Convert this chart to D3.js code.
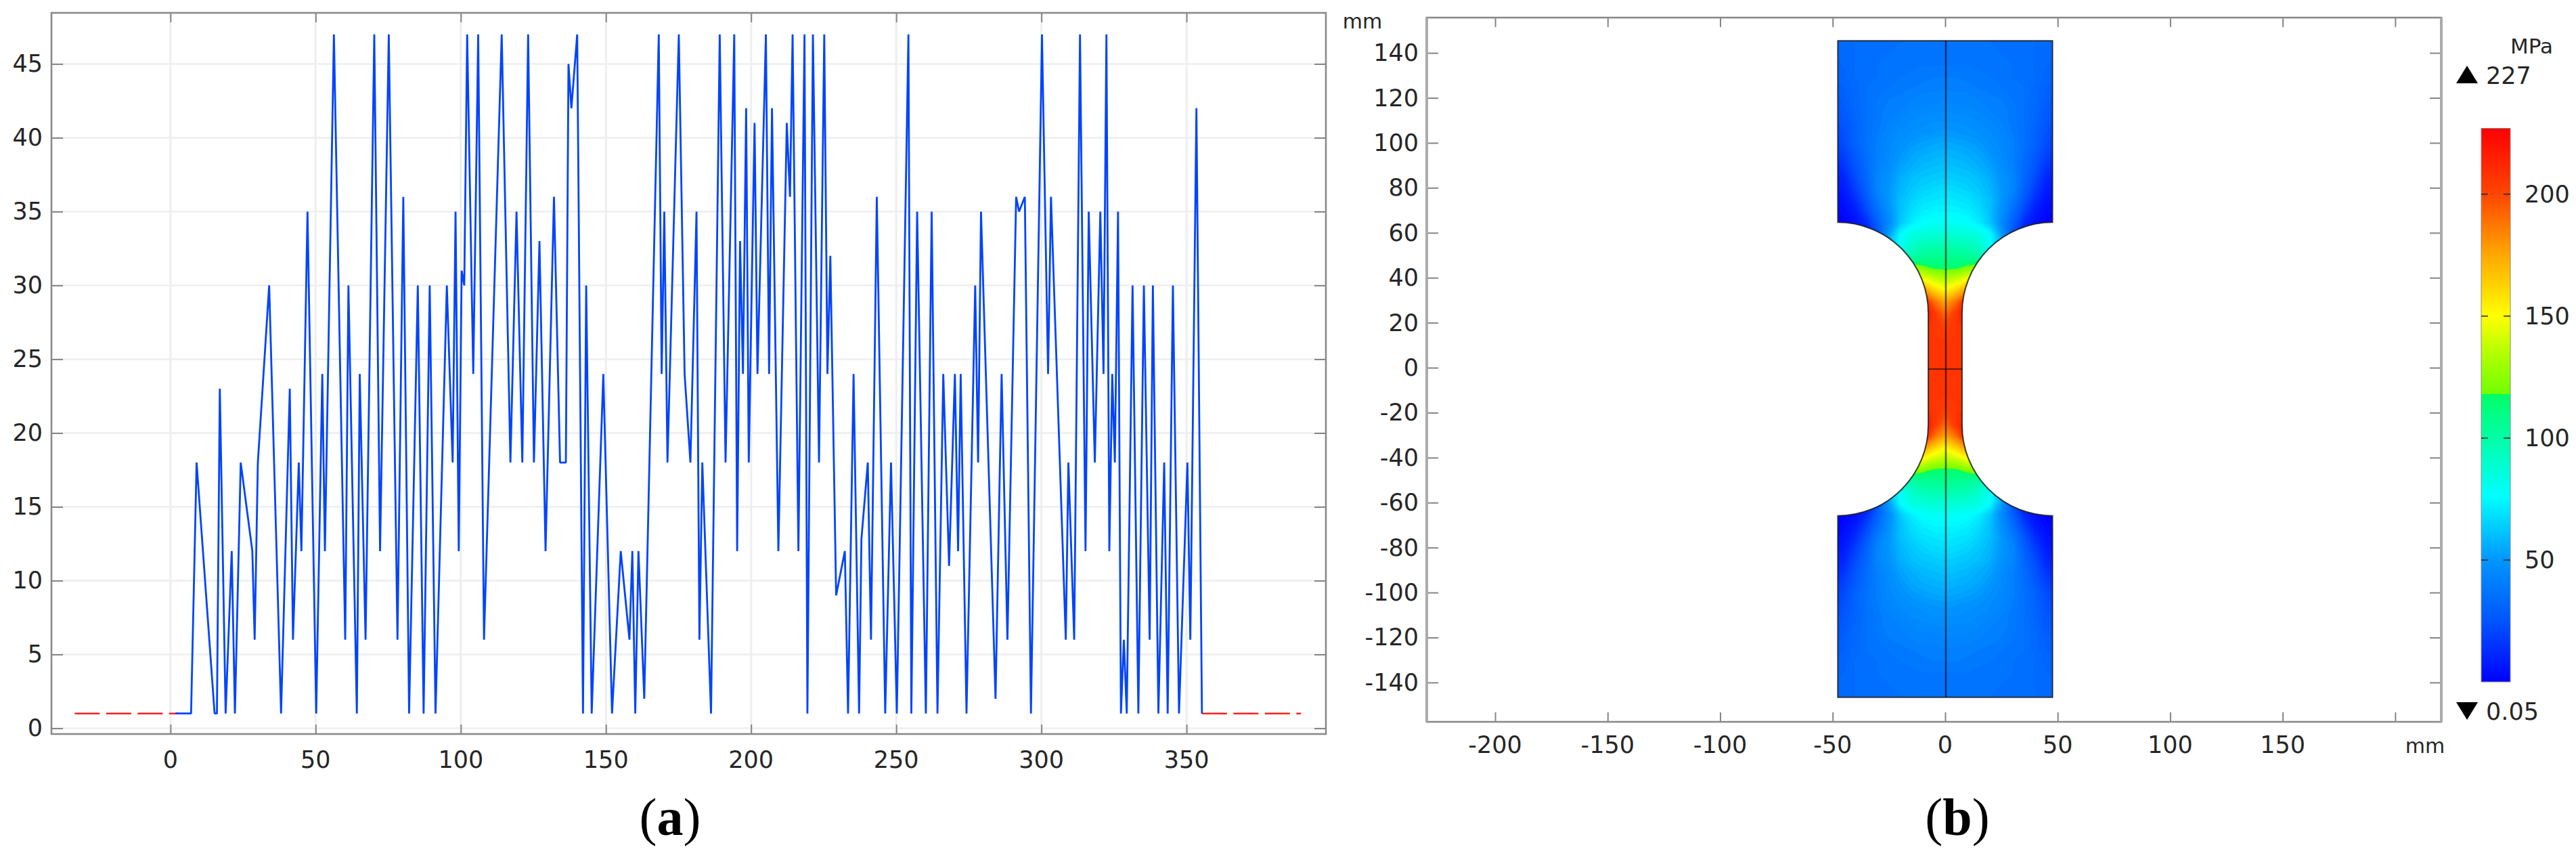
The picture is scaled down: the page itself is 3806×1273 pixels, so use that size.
<!DOCTYPE html>
<html>
<head>
<meta charset="utf-8">
<script src="https://cdn.jsdelivr.net/npm/d3@7"></script>
<style>
  html, body { margin: 0; padding: 0; background: #fff; }
  svg { display: block; }
  text { font-family: "DejaVu Sans", sans-serif; fill: #262626; }
  .caption { font-family: "Liberation Serif", serif; fill: #000; font-size: 78px; }
</style>
</head>
<body>
<script>
// panel (a): path
const lineX = [1.7, 7.1, 9, 15.2, 16, 17, 19, 21.1, 22.2, 24.2, 28.2, 29, 30.1, 34, 38.1, 41.1, 42.2, 44.2, 45.1, 47.2,
  50.2, 52.3, 53.2, 56.3, 60.2, 61.3, 64.2, 65.2, 67.2, 70.2, 72.2, 75.2, 78.2, 80.2, 82.2, 85.2, 87.2, 89.3, 91.3, 95.2,
  97.2, 98.2, 99.3, 100.3, 101.2, 102.2, 104.3, 106, 108, 114.1, 117.1, 119.2, 121.2, 123.2, 125.2, 127.1, 129.2, 132.1, 134.2, 136.2,
  137.1, 138.1, 140.1, 142.1, 143.2, 145.1, 149.1, 152.1, 155.1, 158.1, 159.1, 160.1, 161.2, 163.2, 168.2, 169.2, 170.1, 171.2, 175.1, 177.1,
  179.1, 181.2, 182.2, 183.2, 186.2, 189.2, 191.2, 194.2, 195.2, 196.2, 197.2, 198.3, 199.2, 201.2, 202.2, 205.1, 206.2, 207.2, 209.4, 212.3,
  213.4, 214.3, 216.3, 218.4, 219.4, 221.3, 223.4, 225.2, 226.3, 227.3, 229.3, 232.3, 233.4, 235.3, 237.2, 238, 240.2, 241.3, 243.3, 246.2,
  248.2, 250.2, 251.3, 254.2, 255.2, 257.2, 260.2, 262.2, 264.2, 266.2, 268.2, 270.2, 271.3, 272.2, 274.2, 277.2, 278.2, 279.2, 284.2, 286.3,
  288.3, 291.3, 292.3, 294.3, 296.4, 300.2, 302.3, 303.3, 308.4, 309.3, 311.3, 313.3, 315.2, 316.3, 318.4, 320.3, 321.4, 322.4, 323.4, 324.4,
  325.3, 326.4, 327.4, 328.4, 329.4, 331.4, 333.4, 335.3, 337.3, 338.4, 340.3, 342.3, 343.5, 345.3, 347.4, 350.3, 351.3, 353.4, 355.3];
const lineY = [1, 1, 18, 1, 1, 23, 1, 12, 1, 18, 12, 6, 18, 30, 1, 23, 6, 18, 12, 35,
  1, 24, 12, 47, 6, 30, 1, 24, 6, 47, 12, 47, 6, 36, 1, 30, 1, 30, 1, 30,
  18, 35, 12, 31, 30, 47, 24, 47, 6, 47, 18, 35, 18, 47, 18, 33, 12, 36, 18, 18,
  45, 42, 47, 1, 30, 1, 24, 1, 12, 6, 12, 1, 12, 2, 47, 24, 35, 18, 47, 24,
  18, 35, 6, 18, 1, 47, 18, 47, 12, 33, 24, 42, 18, 41, 24, 47, 24, 42, 12, 41,
  36, 47, 12, 47, 1, 47, 18, 47, 24, 32, 9, 12, 1, 24, 1, 12.8, 18, 6, 36, 1,
  18, 1, 13.6, 47, 1, 35, 1, 35, 1, 24, 11, 24, 12, 24, 1, 30, 18, 35, 2, 24,
  6, 36, 35, 36, 1, 47, 24, 36, 6, 18, 6, 47, 12, 35, 18, 35, 24, 47, 12, 24,
  18, 35, 1, 6, 1, 30, 1, 30, 6, 30, 1, 18, 1, 30, 1, 18, 6, 42, 1];
const redLeftX = [-33, 3];
const redRightX = [355.3, 389.4];
const redY = 1;

const xTicksA = [0, 50, 100, 150, 200, 250, 300, 350];
const yTicksA = [0, 5, 10, 15, 20, 25, 30, 35, 40, 45];

// panel (b): axis ticks
const xTicksB = [-200, -150, -100, -50, 0, 50, 100, 150, 200];
const xLabelsB = [-200, -150, -100, -50, 0, 50, 100, 150];
const yTicksB = [140, 120, 100, 80, 60, 40, 20, 0, -20, -40, -60, -80, -100, -120, -140];

// colour table of the stress legend, MPa
const stopValues = [0.05, 25, 50, 76, 100, 117.9, 118, 135, 150, 175, 200, 227];
const stopColors = ["#0000ff", "#0055ff", "#0096ff", "#00ffff", "#00ffa6", "#00ff66", "#70ff00", "#b4ff00", "#ffff00", "#ffa800", "#ff4600", "#ff0000"];
const legendTicks = [50, 100, 150, 200];

// stress for one quarter of the specimen (it is symmetric), MPa
const fieldXs = [0, 5, 10, 15, 20, 25, 30, 35, 40, 45, 50];
const fieldYs = d3.range(150, -1, -5);
const fieldRows = [
  [36, 36, 36, 36, 36, 35, 35, 35, 34, 33, 33],
  [36, 36, 36, 36, 36, 35, 35, 35, 34, 33, 33],
  [37, 37, 37, 36, 36, 36, 35, 35, 34, 33, 32],
  [38, 38, 38, 37, 37, 36, 36, 35, 34, 32, 31],
  [40, 40, 39, 39, 38, 37, 36, 35, 34, 31, 30],
  [42, 41, 41, 40, 39, 38, 37, 36, 33, 30, 28],
  [44, 43, 43, 42, 41, 40, 38, 36, 33, 29, 26],
  [46, 45, 45, 44, 42, 41, 39, 36, 32, 27, 24],
  [48, 48, 47, 46, 44, 42, 39, 36, 31, 26, 22],
  [51, 50, 49, 48, 46, 44, 40, 36, 30, 24, 20],
  [55, 54, 53, 51, 48, 45, 41, 36, 30, 22, 18],
  [58, 57, 56, 54, 50, 46, 41, 35, 27, 19, 14],
  [61, 60, 59, 56, 53, 47, 42, 34, 25, 15, 11],
  [64, 63, 62, 60, 56, 49, 44, 32, 22, 11, 8],
  [68, 67, 65, 62, 58, 50, 44, 30, 18, 8, 5],
  [71, 70, 69, 65, 60, 50, 40, 26, 13, 5, 3],
  [74, 74, 72, 68, 60, 48, 35, 20, 8, 3, 1],
  [78, 78, 77, 72, 62, 46, 30, 13, 5, 1, 1],
  [87, 87, 86, 84, 75, 52, 24, 8, 3, 1, 1],
  [97, 97, 95, 90, 78, 60, 30, 10, 4, 1, 1],
  [107, 106, 104, 100, 85, 60, 30, 10, 4, 1, 1],
  [115, 116, 122, 128, 100, 60, 30, 10, 4, 1, 1],
  [135, 140, 150, 150, 100, 60, 30, 10, 4, 1, 1],
  [152, 163, 182, 170, 100, 60, 30, 10, 4, 1, 1],
  [175, 190, 218, 210, 100, 60, 30, 10, 4, 1, 1],
  [190, 206, 226, 226, 100, 60, 30, 10, 4, 1, 1],
  [200, 207, 215, 215, 100, 60, 30, 10, 4, 1, 1],
  [205, 206, 207, 207, 100, 60, 30, 10, 4, 1, 1],
  [207, 207, 207, 207, 100, 60, 30, 10, 4, 1, 1],
  [207, 207, 207, 207, 100, 60, 30, 10, 4, 1, 1],
  [207, 207, 207, 207, 100, 60, 30, 10, 4, 1, 1]
];

// specimen outline, mm
const halfWidth = 47.7, neckHalf = 7.5, tabEnd = 146, shoulderY = 65, filletY = 25, specimenShift = -0.6;

const svg = d3.select("body").append("svg").attr("width", 3806).attr("height", 1273);

const boxA = { left: 76, right: 1959, top: 19, bottom: 1084 };
const boxB = { left: 2108, right: 3607, top: 26, bottom: 1066 };

const xA = d3.scaleLinear().domain([-41, 398]).range([boxA.left, boxA.right]);
const yA = d3.scaleLinear().domain([-0.39, 48.46]).range([boxA.bottom, boxA.top]);
const xB = d3.scaleLinear().domain([-230.4, 220.5]).range([boxB.left, boxB.right]);
const yB = d3.scaleLinear().domain([-157.5, 155.7]).range([boxB.bottom, boxB.top]);
const legendY = d3.scaleLinear().domain([0.05, 227]).range([1007, 189.5]);
const stress = d3.scaleLinear().domain(stopValues).range(stopColors).clamp(true);

function drawTicks(g, box, x, y, xTicks, yTicks) {
  const tickStyle = sel => sel.selectAll("line").attr("stroke", "#858585").attr("stroke-width", 2);
  g.append("g").attr("transform", `translate(0,${box.top})`)
    .call(d3.axisBottom(x).tickValues(xTicks).tickSize(14).tickFormat(""))
    .call(s => s.select(".domain").remove()).call(tickStyle);
  g.append("g").attr("transform", `translate(0,${box.bottom})`)
    .call(d3.axisTop(x).tickValues(xTicks).tickSize(14).tickFormat(""))
    .call(s => s.select(".domain").remove()).call(tickStyle);
  g.append("g").attr("transform", `translate(${box.left},0)`)
    .call(d3.axisRight(y).tickValues(yTicks).tickSize(17).tickFormat(""))
    .call(s => s.select(".domain").remove()).call(tickStyle);
  g.append("g").attr("transform", `translate(${box.right},0)`)
    .call(d3.axisLeft(y).tickValues(yTicks).tickSize(17).tickFormat(""))
    .call(s => s.select(".domain").remove()).call(tickStyle);
}

function drawFrame(g, box) {
  g.append("rect")
    .attr("x", box.left).attr("y", box.top)
    .attr("width", box.right - box.left).attr("height", box.bottom - box.top)
    .attr("fill", "none").attr("stroke", "#8a8a8a").attr("stroke-width", 2.6);
}

function drawLabels(g, box, x, y, xLabels, yLabels, yOffset, xOffset) {
  g.selectAll(".xlabel").data(xLabels).enter().append("text")
    .attr("class", "xlabel")
    .attr("x", d => x(d)).attr("y", box.bottom + yOffset)
    .attr("text-anchor", "middle").attr("dominant-baseline", "central")
    .attr("font-size", 35)
    .text(d => d);
  g.selectAll(".ylabel").data(yLabels).enter().append("text")
    .attr("class", "ylabel")
    .attr("x", box.left - xOffset).attr("y", d => y(d))
    .attr("text-anchor", "end").attr("dominant-baseline", "central")
    .attr("font-size", 35)
    .text(d => d);
}

// ---- panel (a)
const panelA = svg.append("g");

panelA.append("g").selectAll("line").data(xTicksA).enter().append("line")
  .attr("x1", d => xA(d)).attr("x2", d => xA(d))
  .attr("y1", boxA.top).attr("y2", boxA.bottom)
  .attr("stroke", "#eeeeee").attr("stroke-width", 3);
panelA.append("g").selectAll("line").data(yTicksA).enter().append("line")
  .attr("x1", boxA.left).attr("x2", boxA.right)
  .attr("y1", d => yA(d)).attr("y2", d => yA(d))
  .attr("stroke", "#eeeeee").attr("stroke-width", 2.4);

drawTicks(panelA, boxA, xA, yA, xTicksA, yTicksA);
drawFrame(panelA, boxA);

const redLine = d3.line().x(d => xA(d)).y(() => yA(redY));
[redLeftX, redRightX].forEach(r => {
  panelA.append("path")
    .attr("d", redLine(r))
    .attr("fill", "none").attr("stroke", "#ff2020").attr("stroke-width", 2.6)
    .attr("stroke-dasharray", "37 9.5");
});

const blueLine = d3.line().x(d => xA(d[0])).y(d => yA(d[1]));
panelA.append("path")
  .attr("d", blueLine(d3.zip(lineX, lineY)))
  .attr("fill", "none").attr("stroke", "#0044ff").attr("stroke-width", 2.8)
  .attr("stroke-linejoin", "bevel");

drawLabels(panelA, boxA, xA, yA, xTicksA, yTicksA, 38, 13);

// ---- panel (b)
const panelB = svg.append("g");
drawTicks(panelB, boxB, xB, yB, xTicksB, yTicksB);
drawFrame(panelB, boxB);
panelB.append("line")
  .attr("x1", boxB.left).attr("x2", boxB.left).attr("y1", boxB.top).attr("y2", boxB.bottom)
  .attr("stroke", "#ababab").attr("stroke-width", 4);
panelB.append("line")
  .attr("x1", boxB.right).attr("x2", boxB.right).attr("y1", boxB.top).attr("y2", boxB.bottom)
  .attr("stroke", "#ababab").attr("stroke-width", 4);
drawLabels(panelB, boxB, xB, yB, xLabelsB, yTicksB, 34, 12);

panelB.append("text").attr("x", 2013).attr("y", 31)
  .attr("text-anchor", "middle").attr("dominant-baseline", "central").attr("font-size", 30).text("mm");
panelB.append("text").attr("x", 3583).attr("y", 1101)
  .attr("text-anchor", "middle").attr("dominant-baseline", "central").attr("font-size", 30).text("mm");

// specimen outline
const sx = d => xB(d), sy = d => yB(d + specimenShift);
const radius = Math.abs(xB(halfWidth) - xB(neckHalf));
const outline = d3.path();
outline.moveTo(sx(-halfWidth), sy(tabEnd));
outline.lineTo(sx(halfWidth), sy(tabEnd));
outline.lineTo(sx(halfWidth), sy(shoulderY));
outline.arc(sx(halfWidth), sy(filletY), radius, -Math.PI / 2, -Math.PI, true);
outline.lineTo(sx(neckHalf), sy(-filletY));
outline.arc(sx(halfWidth), sy(-filletY), radius, Math.PI, Math.PI / 2, true);
outline.lineTo(sx(halfWidth), sy(-tabEnd));
outline.lineTo(sx(-halfWidth), sy(-tabEnd));
outline.lineTo(sx(-halfWidth), sy(-shoulderY));
outline.arc(sx(-halfWidth), sy(-filletY), radius, Math.PI / 2, 0, true);
outline.lineTo(sx(-neckHalf), sy(filletY));
outline.arc(sx(-halfWidth), sy(filletY), radius, 0, -Math.PI / 2, true);
outline.closePath();

svg.append("defs").append("clipPath").attr("id", "specimen")
  .append("path").attr("d", outline.toString());

// mirror the quarter table into the whole grid for d3.contours
const gridXs = fieldXs.slice(1).reverse().map(d => -d).concat(fieldXs);
const gridYs = fieldYs.concat(fieldYs.slice(0, -1).reverse().map(d => -d));
const grid = [];
gridYs.forEach(gy => {
  const row = fieldRows[fieldYs.indexOf(Math.abs(gy))];
  gridXs.forEach(gx => grid.push(row[fieldXs.indexOf(Math.abs(gx))]));
});

const nx = gridXs.length, ny = gridYs.length;
const thresholds = d3.range(0, 228, 2);
const bands = d3.contours().size([nx, ny]).thresholds(thresholds)(grid);
const gridToX = d3.scaleLinear().domain([0.5, nx - 0.5]).range([sx(gridXs[0]), sx(gridXs[nx - 1])]);
const gridToY = d3.scaleLinear().domain([0.5, ny - 0.5]).range([sy(gridYs[0]), sy(gridYs[ny - 1])]);
const bandPath = d3.geoPath(d3.geoTransform({
  point: function (px, py) { this.stream.point(gridToX(px), gridToY(py)); }
}));

panelB.append("g").attr("clip-path", "url(#specimen)")
  .selectAll("path").data(bands).enter().append("path")
  .attr("d", bandPath)
  .attr("fill", d => stress(d.value + 1));

panelB.append("path").attr("d", outline.toString())
  .attr("fill", "none").attr("stroke", "#222").attr("stroke-width", 2).attr("stroke-opacity", 0.85);
panelB.append("line")
  .attr("x1", sx(0.3)).attr("x2", sx(0.3)).attr("y1", sy(tabEnd)).attr("y2", sy(-tabEnd))
  .attr("stroke", "#000").attr("stroke-opacity", 0.6).attr("stroke-width", 2.5);
panelB.append("line")
  .attr("x1", sx(-neckHalf)).attr("x2", sx(neckHalf)).attr("y1", sy(0)).attr("y2", sy(0))
  .attr("stroke", "#000").attr("stroke-opacity", 0.75).attr("stroke-width", 1.6);

// legend
const gradient = svg.select("defs").append("linearGradient").attr("id", "legend")
  .attr("x1", 0).attr("x2", 0).attr("y1", 1).attr("y2", 0);
gradient.selectAll("stop").data(stopValues).enter().append("stop")
  .attr("offset", d => (d - 0.05) / (227 - 0.05))
  .attr("stop-color", (d, i) => stopColors[i]);

const legend = svg.append("g");
const legendLeft = 3666, legendRight = 3709;
legend.append("rect")
  .attr("x", legendLeft).attr("y", legendY(227))
  .attr("width", legendRight - legendLeft).attr("height", legendY(0.05) - legendY(227))
  .attr("fill", "url(#legend)").attr("stroke", "#888").attr("stroke-width", 1);
legend.selectAll(".tl").data(legendTicks).enter().append("line")
  .attr("class", "tl")
  .attr("x1", legendLeft).attr("x2", legendLeft + 10)
  .attr("y1", d => legendY(d)).attr("y2", d => legendY(d))
  .attr("stroke", "#222").attr("stroke-width", 1.5);
legend.selectAll(".tr").data(legendTicks).enter().append("line")
  .attr("class", "tr")
  .attr("x1", legendRight - 10).attr("x2", legendRight)
  .attr("y1", d => legendY(d)).attr("y2", d => legendY(d))
  .attr("stroke", "#222").attr("stroke-width", 1.5);
legend.selectAll(".ll").data(legendTicks).enter().append("text")
  .attr("class", "ll")
  .attr("x", 3730).attr("y", d => legendY(d))
  .attr("dominant-baseline", "central").attr("font-size", 35)
  .text(d => d);

legend.append("text").attr("x", 3709).attr("y", 68)
  .attr("dominant-baseline", "central").attr("font-size", 31).text("MPa");
legend.append("path").attr("d", d3.line()([[3629, 123], [3645, 97], [3661, 123]]) + "Z").attr("fill", "#000");
legend.append("text").attr("x", 3673).attr("y", 112)
  .attr("dominant-baseline", "central").attr("font-size", 35).text("227");
legend.append("path").attr("d", d3.line()([[3629, 1037], [3645, 1063], [3661, 1037]]) + "Z").attr("fill", "#000");
legend.append("text").attr("x", 3673).attr("y", 1051)
  .attr("dominant-baseline", "central").attr("font-size", 35).text("0.05");

// captions
function caption(x, letter) {
  const t = svg.append("text").attr("class", "caption")
    .attr("x", x).attr("y", 1233).attr("text-anchor", "middle");
  t.append("tspan").text("(");
  t.append("tspan").attr("font-weight", "bold").text(letter);
  t.append("tspan").text(")");
}
caption(990, "a");
caption(2892, "b");
</script>
</body>
</html>
